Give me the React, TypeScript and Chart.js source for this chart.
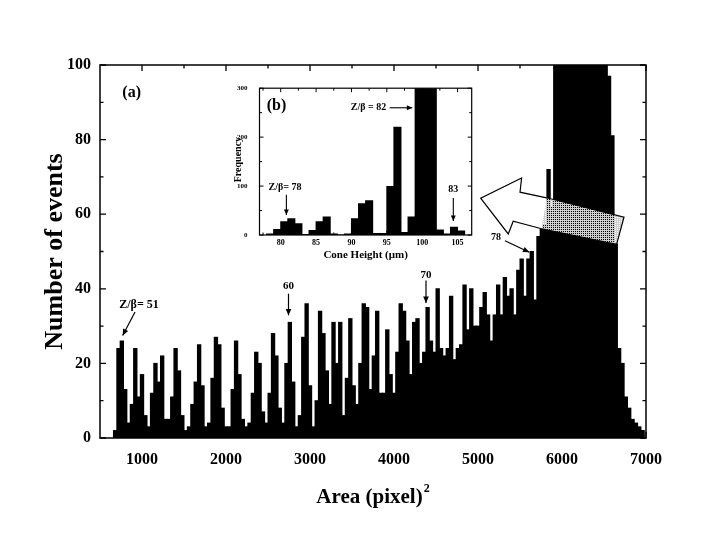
import React, { useEffect, useRef } from "react";
import { Chart, registerables } from "chart.js";

Chart.register(...registerables);

const SERIF = "'Liberation Serif', 'Times New Roman', Times, serif";

// ---------------- (a) main histogram: Number of events vs Area (pixel)^2 ----------------
// histogram bins are 40 (pixel)^2 wide; first bin centre at 680
const AREA_BIN_WIDTH = 40;
const AREA_FIRST_CENTER = 680;

// Z/beta = 51 ... 60  (centres 680 ... 2840)
const eventsZ51toZ60 = [
  2, 24, 26, 13, 4, 9, 24, 11, 17, 6,
  3, 12, 20, 15, 22, 5, 5, 11, 24, 18,
  6, 2, 3, 9, 15, 25, 14, 3, 4, 16,
  27, 25, 8, 3, 3, 13, 26, 17, 5, 3,
  4, 12, 23, 20, 7, 4, 12, 28, 22, 8,
  4, 20, 31, 15, 3,
];
// Z/beta = 61 ... 75  (centres 2880 ... 5080)
const eventsZ61toZ75 = [
  6, 27, 36, 14, 3, 10, 34, 28, 18, 9,
  31, 20, 31, 6, 16, 32, 14, 9, 20, 36,
  35, 13, 22, 34, 12, 12, 29, 17, 12, 23,
  36, 34, 26, 17, 31, 32, 20, 23, 35, 26,
  23, 40, 24, 22, 24, 38, 21, 24, 25, 41,
  29, 40, 30, 30, 35, 39,
];
// Z/beta = 76 ... 78 ramp  (centres 5120 ... 5880)
const eventsZ76toZ78 = [
  33, 26, 33, 41, 33, 43, 38, 40, 33, 45,
  48, 38, 48, 50, 37, 54, 56, 57, 72, 62,
];
// main peak, off scale (centres 5920 ... 6520)
const eventsMainPeak = [
  118, 142, 175, 210, 245, 270, 290, 300, 295, 280, 255, 230, 200, 170, 140, 112,
];
// high-area tail (centres 6560 ... 6960)
const eventsTail = [97, 81, 52, 24, 20, 11, 8, 5, 4, 3, 2];

const areaCounts = [
  ...eventsZ51toZ60,
  ...eventsZ61toZ75,
  ...eventsZ76toZ78,
  ...eventsMainPeak,
  ...eventsTail,
];

const AREA_TICKS = [1000, 2000, 3000, 4000, 5000, 6000, 7000];
const AREA_MINOR_TICKS = [1500, 2500, 3500, 4500, 5500, 6500];
const EVENT_TICKS = [0, 20, 40, 60, 80, 100];
const EVENT_MINOR_TICKS = [10, 30, 50, 70, 90];

// ---------------- (b) inset: Frequency vs Cone Height (um) ----------------
const CONE_HEIGHTS = [
  78.5, 79.5, 80.5, 81.5, 82.5, 83.5, 84.5, 85.5, 86.5, 87.5,
  88.5, 89.5, 90.5, 91.5, 92.5, 93.5, 94.5, 95.5, 96.5, 97.5,
  98.5, 99.5, 100.5, 101.5, 102.5, 103.5, 104.5, 105.5,
];
const CONE_FREQUENCY = [
  2, 11, 27, 33, 23, 1, 9, 27, 37, 2,
  0, 2, 33, 64, 70, 3, 3, 99, 220, 5,
  37, 340, 380, 330, 10, 2, 16, 8,
];
const CONE_TICKS = [80, 85, 90, 95, 100, 105];
const CONE_MINOR_TICKS = [77.5, 82.5, 87.5, 92.5, 97.5, 102.5];
const FREQ_TICKS = [0, 100, 200, 300];
const FREQ_MINOR_TICKS = [50, 150, 250];

// ---------------- annotations (in data units) ----------------
const MAIN_LABELS = [
  { text: "(a)", x: 877, y: 92.5, size: 16 },
  { text: "Z/\u03B2= 51", x: 964, y: 35.6, size: 12 },
  { text: "60", x: 2744, y: 40.8, size: 11 },
  { text: "70", x: 4381, y: 43.6, size: 11 },
  { text: "78", x: 5214, y: 53.7, size: 10 },
];
const MAIN_ARROWS = [
  { from: [917, 33.8], to: [770, 27.5] },
  { from: [2744, 38.7], to: [2744, 32.9] },
  { from: [4381, 42.2], to: [4381, 36.2] },
  { from: [5321, 52.9], to: [5611, 49.8] },
];
// big open arrow pointing from the main peak to the inset
const BIG_ARROW_OUTLINE = [
  [5817, 64.4], [5500, 65.9], [5519, 69.7], [5032, 64.3],
  [5360, 54.7], [5419, 58.1], [5757, 56.1], [6650, 51.9], [6738, 59.2],
];
const BIG_ARROW_HEAD = [
  [5817, 64.4], [5500, 65.9], [5519, 69.7], [5032, 64.3],
  [5360, 54.7], [5419, 58.1], [5757, 56.1],
];
const BIG_ARROW_TAIL = [[5817, 64.4], [6738, 59.2], [6650, 51.9], [5757, 56.1]];

const INSET_LABELS = [
  { text: "(b)", x: 79.4, y: 263, size: 16 },
  { text: "Z/\u03B2 = 82", x: 92.4, y: 260, size: 10 },
  { text: "Z/\u03B2= 78", x: 80.6, y: 97.6, size: 10 },
  { text: "83", x: 104.4, y: 93, size: 10 },
];
const INSET_ARROWS = [
  { from: [95.4, 260], to: [98.6, 260] },
  { from: [80.8, 82], to: [80.8, 41] },
  { from: [104.4, 75.8], to: [104.4, 28.4] },
];

// ---------------- drawing helpers ----------------
function drawArrow(ctx: any, x1: number, y1: number, x2: number, y2: number, head: number) {
  ctx.beginPath();
  ctx.moveTo(x1, y1);
  ctx.lineTo(x2, y2);
  ctx.stroke();
  const ang = Math.atan2(y2 - y1, x2 - x1);
  ctx.beginPath();
  ctx.moveTo(x2, y2);
  ctx.lineTo(x2 - head * Math.cos(ang - 0.42), y2 - head * Math.sin(ang - 0.42));
  ctx.lineTo(x2 - head * Math.cos(ang + 0.42), y2 - head * Math.sin(ang + 0.42));
  ctx.closePath();
  ctx.fill();
}

function drawFrame(chart: any, o: any) {
  const { ctx, chartArea: a, scales } = chart;
  const sx = scales.x;
  const sy = scales.y;
  ctx.save();
  ctx.strokeStyle = "#000";
  ctx.lineWidth = o.lw;
  ctx.strokeRect(a.left, a.top, a.right - a.left, a.bottom - a.top);
  ctx.lineWidth = o.tw;
  ctx.beginPath();
  const tx = (v: number, len: number) => {
    const p = sx.getPixelForValue(v);
    ctx.moveTo(p, a.bottom);
    ctx.lineTo(p, a.bottom - len);
    ctx.moveTo(p, a.top);
    ctx.lineTo(p, a.top + len);
  };
  const ty = (v: number, len: number) => {
    const p = sy.getPixelForValue(v);
    ctx.moveTo(a.left, p);
    ctx.lineTo(a.left + len, p);
    ctx.moveTo(a.right, p);
    ctx.lineTo(a.right - len, p);
  };
  o.xMajor.forEach((v: number) => tx(v, o.major));
  o.xMinor.forEach((v: number) => tx(v, o.minor));
  o.yMajor.forEach((v: number) => ty(v, o.major));
  o.yMinor.forEach((v: number) => ty(v, o.minor));
  ctx.stroke();
  ctx.restore();
}

function makeHatch(): any {
  const c = document.createElement("canvas");
  c.width = 2;
  c.height = 2;
  const g = c.getContext("2d")!;
  g.fillStyle = "#cfcfcf";
  g.fillRect(0, 0, 2, 1);
  g.fillRect(0, 1, 1, 1);
  return c;
}

const mainDecor = {
  id: "mainDecor",
  afterDraw(chart: any) {
    const { ctx, scales } = chart;
    const sx = scales.x;
    const sy = scales.y;
    const P = (p: number[]) => [sx.getPixelForValue(p[0]), sy.getPixelForValue(p[1])];

    ctx.save();
    const head = BIG_ARROW_HEAD.map(P);
    ctx.beginPath();
    head.forEach((p, i) => (i ? ctx.lineTo(p[0], p[1]) : ctx.moveTo(p[0], p[1])));
    ctx.closePath();
    ctx.fillStyle = "#fff";
    ctx.fill();
    const tail = BIG_ARROW_TAIL.map(P);
    ctx.beginPath();
    tail.forEach((p, i) => (i ? ctx.lineTo(p[0], p[1]) : ctx.moveTo(p[0], p[1])));
    ctx.closePath();
    ctx.fillStyle = ctx.createPattern(makeHatch(), "repeat");
    ctx.fill();
    const outline = BIG_ARROW_OUTLINE.map(P);
    ctx.beginPath();
    outline.forEach((p, i) => (i ? ctx.lineTo(p[0], p[1]) : ctx.moveTo(p[0], p[1])));
    ctx.closePath();
    ctx.strokeStyle = "#000";
    ctx.lineWidth = 1.2;
    ctx.stroke();
    ctx.restore();

    drawFrame(chart, {
      lw: 1.5, tw: 1.3, major: 6, minor: 3.5,
      xMajor: AREA_TICKS, xMinor: AREA_MINOR_TICKS,
      yMajor: EVENT_TICKS, yMinor: EVENT_MINOR_TICKS,
    });

    ctx.save();
    ctx.fillStyle = "#000";
    ctx.strokeStyle = "#000";
    ctx.textAlign = "center";
    ctx.textBaseline = "middle";
    MAIN_LABELS.forEach((l) => {
      ctx.font = `bold ${l.size}px ${SERIF}`;
      const p = P([l.x, l.y]);
      ctx.fillText(l.text, p[0], p[1]);
    });
    ctx.lineWidth = 1.2;
    MAIN_ARROWS.forEach((a) => {
      const f = P(a.from);
      const t = P(a.to);
      drawArrow(ctx, f[0], f[1], t[0], t[1], 7);
    });

    const a = chart.chartArea;
    ctx.font = `bold 26px ${SERIF}`;
    ctx.save();
    ctx.translate(55, (a.top + a.bottom) / 2);
    ctx.rotate(-Math.PI / 2);
    ctx.fillText("Number of events", 0, 0);
    ctx.restore();

    ctx.textAlign = "left";
    ctx.textBaseline = "alphabetic";
    ctx.font = `bold 21px ${SERIF}`;
    const main = "Area (pixel)";
    const w1 = ctx.measureText(main).width;
    ctx.font = `bold 12px ${SERIF}`;
    const w2 = ctx.measureText("2").width;
    const cx = (a.left + a.right) / 2;
    const x0 = cx - (w1 + w2 + 1) / 2;
    ctx.font = `bold 21px ${SERIF}`;
    ctx.fillText(main, x0, 503);
    ctx.font = `bold 12px ${SERIF}`;
    ctx.fillText("2", x0 + w1 + 1, 492);
    ctx.restore();
  },
};

const insetDecor = {
  id: "insetDecor",
  afterDraw(chart: any) {
    const { ctx, scales } = chart;
    const sx = scales.x;
    const sy = scales.y;
    const P = (p: number[]) => [sx.getPixelForValue(p[0]), sy.getPixelForValue(p[1])];
    drawFrame(chart, {
      lw: 1.2, tw: 1, major: 4, minor: 2.5,
      xMajor: CONE_TICKS, xMinor: CONE_MINOR_TICKS,
      yMajor: FREQ_TICKS, yMinor: FREQ_MINOR_TICKS,
    });
    ctx.save();
    ctx.fillStyle = "#000";
    ctx.strokeStyle = "#000";
    ctx.textAlign = "center";
    ctx.textBaseline = "middle";
    INSET_LABELS.forEach((l) => {
      ctx.font = `bold ${l.size}px ${SERIF}`;
      const p = P([l.x, l.y]);
      ctx.fillText(l.text, p[0], p[1]);
    });
    ctx.lineWidth = 1.1;
    INSET_ARROWS.forEach((a) => {
      const f = P(a.from);
      const t = P(a.to);
      drawArrow(ctx, f[0], f[1], t[0], t[1], 6);
    });
    const a = chart.chartArea;
    ctx.font = `bold 10px ${SERIF}`;
    ctx.save();
    ctx.translate(13, sy.getPixelForValue(150) - 2);
    ctx.rotate(-Math.PI / 2);
    ctx.fillText("Frequency", 0, 0);
    ctx.restore();
    ctx.font = `bold 11px ${SERIF}`;
    ctx.fillText("Cone Height (\u03BCm)", (a.left + a.right) / 2, 183);
    ctx.restore();
  },
};

const plainLabel = (v: any) => String(v);

export default function App() {
  const mainRef = useRef<HTMLCanvasElement>(null);
  const insetRef = useRef<HTMLCanvasElement>(null);

  useEffect(() => {
    const mainData = areaCounts.map((c, i) => ({
      x: AREA_FIRST_CENTER + i * AREA_BIN_WIDTH,
      y: c,
    }));
    const insetData = CONE_HEIGHTS.map((h, i) => ({ x: h, y: CONE_FREQUENCY[i] }));

    const tickFont = (size: number) => ({ family: SERIF, size, weight: "bold" as const });

    const main = new Chart(mainRef.current!, {
      type: "bar",
      data: {
        datasets: [
          {
            data: mainData as any,
            backgroundColor: "#000",
            borderWidth: 0,
            barPercentage: 1,
            categoryPercentage: 1,
            inflateAmount: 0.5,
          } as any,
        ],
      },
      options: {
        animation: false,
        responsive: false,
        maintainAspectRatio: false,
        layout: { padding: { left: 0, top: 65, right: 81, bottom: 0 } },
        plugins: { legend: { display: false }, tooltip: { enabled: false } },
        scales: {
          x: {
            type: "linear",
            offset: false,
            min: 500,
            max: 7000,
            grid: { display: false, drawTicks: false, offset: false },
            border: { display: false },
            afterBuildTicks: (s: any) => {
              s.ticks = AREA_TICKS.map((v) => ({ value: v }));
            },
            afterFit: (s: any) => {
              s.height = 105;
            },
            ticks: {
              padding: 12, color: "#000", font: tickFont(16), maxRotation: 0,
              autoSkip: false, callback: plainLabel,
            },
          },
          y: {
            min: 0,
            max: 100,
            grid: { display: false, drawTicks: false },
            border: { display: false },
            afterBuildTicks: (s: any) => {
              s.ticks = EVENT_TICKS.map((v) => ({ value: v }));
            },
            afterFit: (s: any) => {
              s.width = 100;
            },
            ticks: { padding: 9, color: "#000", font: tickFont(16), callback: plainLabel },
          },
        },
      },
      plugins: [mainDecor],
    });

    const inset = new Chart(insetRef.current!, {
      type: "bar",
      data: {
        datasets: [
          {
            data: insetData as any,
            backgroundColor: "#000",
            borderWidth: 0,
            barPercentage: 1,
            categoryPercentage: 1,
            inflateAmount: 0.5,
          } as any,
        ],
      },
      options: {
        animation: false,
        responsive: false,
        maintainAspectRatio: false,
        layout: { padding: { left: 0, top: 4.7, right: 8.3, bottom: 0 } },
        plugins: { legend: { display: false }, tooltip: { enabled: false } },
        scales: {
          x: {
            type: "linear",
            offset: false,
            min: 77,
            max: 107,
            grid: { display: false, drawTicks: false, offset: false },
            border: { display: false },
            afterBuildTicks: (s: any) => {
              s.ticks = CONE_TICKS.map((v) => ({ value: v }));
            },
            afterFit: (s: any) => {
              s.height = 27;
            },
            ticks: {
              padding: 3, color: "#000", font: tickFont(8), maxRotation: 0,
              autoSkip: false, callback: plainLabel,
            },
          },
          y: {
            min: 0,
            max: 300,
            grid: { display: false, drawTicks: false },
            border: { display: false },
            afterBuildTicks: (s: any) => {
              s.ticks = FREQ_TICKS.map((v) => ({ value: v }));
            },
            afterFit: (s: any) => {
              s.width = 34.5;
            },
            ticks: { padding: 12, color: "#000", font: tickFont(7), callback: plainLabel },
          },
        },
      },
      plugins: [insetDecor],
    });

    return () => {
      main.destroy();
      inset.destroy();
    };
  }, []);

  return (
    <div
      style={{
        position: "absolute",
        left: 0,
        top: 0,
        width: 727,
        height: 543,
        background: "#fff",
        overflow: "hidden",
      }}
    >
      <canvas
        ref={mainRef}
        width={727}
        height={543}
        style={{ position: "absolute", left: 0, top: 0, width: 727, height: 543 }}
      />
      <canvas
        ref={insetRef}
        width={255}
        height={190}
        style={{ position: "absolute", left: 225, top: 72, width: 255, height: 190 }}
      />
    </div>
  );
}
